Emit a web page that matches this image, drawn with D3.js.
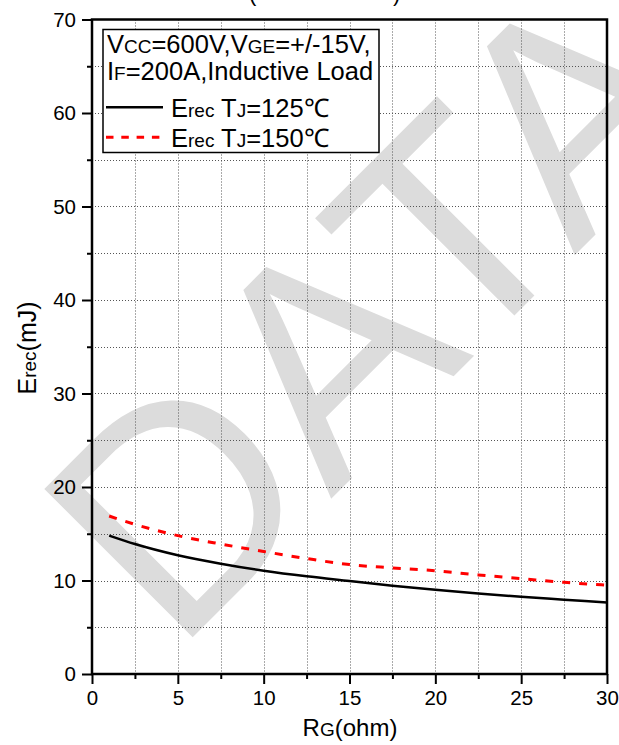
<!DOCTYPE html>
<html><head><meta charset="utf-8">
<script src="https://cdn.jsdelivr.net/npm/d3@7"></script>
<style>
body{margin:0;background:#fff}
svg{display:block;font-family:"Liberation Sans",Arial,sans-serif}
</style>
</head><body>
<svg id="chart" width="619" height="745"></svg>
<script>
// Gate resistance (ohm) and diode reverse-recovery energy (mJ)
const rgOhm   = [1, 2.5, 5, 7.5, 10, 12.5, 15, 17.5, 20, 22.5, 25, 27.5, 30];
const erec125 = [14.8, 13.9, 12.7, 11.8, 11.05, 10.45, 9.95, 9.45, 9.0, 8.6, 8.25, 7.95, 7.65];
const erec150 = [16.9, 16.0, 14.8, 13.9, 13.1, 12.35, 11.7, 11.35, 11.05, 10.6, 10.2, 9.8, 9.5];
const xTicks = [0, 5, 10, 15, 20, 25, 30];
const yTicks = [0, 10, 20, 30, 40, 50, 60, 70];
const xMinor = [2.5, 7.5, 12.5, 17.5, 22.5, 27.5];
const yMinor = [5, 15, 25, 35, 45, 55, 65];

const svg = d3.select("#chart");
const L = 92, R = 607, T = 19.5, B = 674;
const x = d3.scaleLinear().domain([0, 30]).range([L, R]);
const y = d3.scaleLinear().domain([0, 70]).range([B, T]);

// mixed-size text: parts = [[string, small?], ...]
function rich(g, parts, big, small) {
  parts.forEach(([s, sm]) => g.append("tspan").attr("font-size", sm ? small : big).text(s));
  return g;
}

// watermark
svg.append("text")
  .attr("transform", "translate(175,655) rotate(-45)")
  .attr("font-size", 305).attr("fill", "#dcdcdc")
  .text("DATASHEET");

// cut-off title parentheses
svg.append("text").attr("x", 249).attr("y", 1).attr("font-size", 22).text("(");
svg.append("text").attr("x", 393).attr("y", 1).attr("font-size", 22).text(")");

// grid
const grid = svg.append("g").attr("stroke", "#555").attr("stroke-width", 1).attr("stroke-dasharray", "1,2");
d3.range(2.5, 30, 2.5).forEach(v => grid.append("line")
  .attr("x1", Math.round(x(v)) + 0.5).attr("x2", Math.round(x(v)) + 0.5).attr("y1", T).attr("y2", B));
d3.range(5, 70, 5).forEach(v => grid.append("line")
  .attr("y1", Math.round(y(v)) + 0.5).attr("y2", Math.round(y(v)) + 0.5).attr("x1", L).attr("x2", R));

// axes
const xAxis = svg.append("g").attr("transform", `translate(0,${B})`)
  .call(d3.axisBottom(x).tickValues(xTicks).tickSize(10).tickPadding(6).tickFormat(d3.format("d")));
const xAxisMinor = svg.append("g").attr("transform", `translate(0,${B})`)
  .call(d3.axisBottom(x).tickValues(xMinor).tickSize(5).tickFormat(""));
const yAxis = svg.append("g").attr("transform", `translate(${L},0)`)
  .call(d3.axisLeft(y).tickValues(yTicks).tickSize(10).tickPadding(6).tickFormat(d3.format("d")));
const yAxisMinor = svg.append("g").attr("transform", `translate(${L},0)`)
  .call(d3.axisLeft(y).tickValues(yMinor).tickSize(5).tickFormat(""));
[xAxis, xAxisMinor, yAxis, yAxisMinor].forEach(a => {
  a.select(".domain").remove();
  a.selectAll("line").attr("stroke", "#000").attr("stroke-width", 2);
  a.selectAll("text").attr("font-size", 20.5).attr("fill", "#000").attr("font-family", null);
});

// frame
svg.append("rect").attr("x", L).attr("y", T).attr("width", R - L).attr("height", B - T)
  .attr("fill", "none").attr("stroke", "#000").attr("stroke-width", 2.5);

// curves
const pts125 = rgOhm.map((r, i) => [r, erec125[i]]);
const pts150 = rgOhm.map((r, i) => [r, erec150[i]]);
const line = d3.line().x(d => x(d[0])).y(d => y(d[1])).curve(d3.curveMonotoneX);
svg.append("path").attr("d", line(pts150)).attr("fill", "none")
  .attr("stroke", "#ff0000").attr("stroke-width", 3).attr("stroke-dasharray", "8,9");
svg.append("path").attr("d", line(pts125)).attr("fill", "none")
  .attr("stroke", "#000").attr("stroke-width", 2.5);

// legend
const lg = svg.append("g");
lg.append("rect").attr("x", 103).attr("y", 29.5).attr("width", 276).attr("height", 123)
  .attr("fill", "#fff").attr("stroke", "#000").attr("stroke-width", 1.5);
rich(lg.append("text").attr("x", 107).attr("y", 52.5),
  [["V"], ["CC", 1], ["=600V,V"], ["GE", 1], ["=+/-15V,"]], 25.5, 19);
rich(lg.append("text").attr("x", 107).attr("y", 79.5),
  [["I"], ["F", 1], ["=200A,Inductive Load"]], 25.5, 19);
lg.append("line").attr("x1", 106).attr("x2", 163).attr("y1", 107.3).attr("y2", 107.3)
  .attr("stroke", "#000").attr("stroke-width", 2.5);
rich(lg.append("text").attr("x", 171).attr("y", 116.5),
  [["E"], ["rec", 1], [" T"], ["J", 1], ["=125℃"]], 25.5, 19);
lg.append("line").attr("x1", 106).attr("x2", 163).attr("y1", 137.3).attr("y2", 137.3)
  .attr("stroke", "#ff0000").attr("stroke-width", 3).attr("stroke-dasharray", "7.5,7.8");
rich(lg.append("text").attr("x", 171).attr("y", 147),
  [["E"], ["rec", 1], [" T"], ["J", 1], ["=150℃"]], 25.5, 19);

// axis titles
rich(svg.append("text").attr("x", 350).attr("y", 736).attr("text-anchor", "middle"),
  [["R"], ["G", 1], ["(ohm)"]], 24, 19);
rich(svg.append("text").attr("transform", "translate(36,348) rotate(-90)").attr("text-anchor", "middle"),
  [["E"], ["rec", 1], ["(mJ)"]], 25, 19);
</script>
</body></html>
